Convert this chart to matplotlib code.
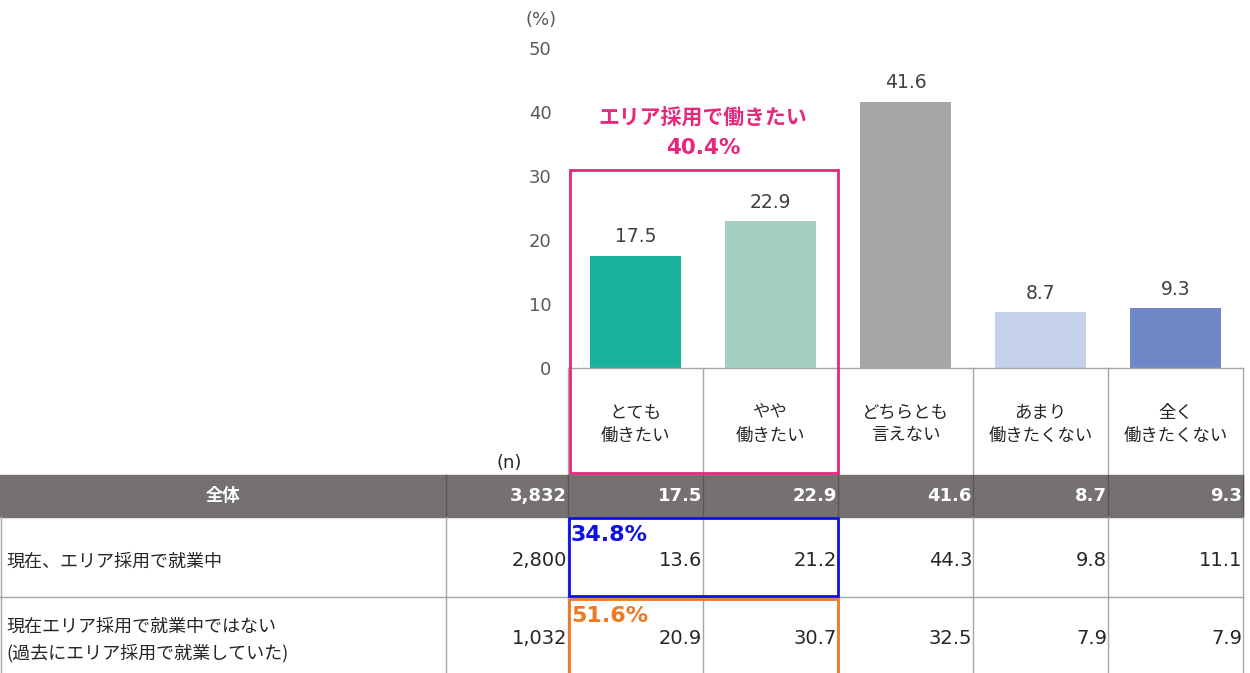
#
#   Survey: willingness to work under area-limited hiring, bar chart + table
#

import matplotlib.pyplot as plt
from matplotlib.patches import Rectangle

plt.rcParams['font.family'] = ['Noto Sans CJK JP', 'DejaVu Sans']
NUM = ['DejaVu Sans']  # wide Verdana-like digits, as in the original

categories = ['とても\n働きたい', 'やや\n働きたい', 'どちらとも\n言えない',
              'あまり\n働きたくない', '全く\n働きたくない']
overall = [17.5, 22.9, 41.6, 8.7, 9.3]
bar_colors = ['#1AB29C', '#A3CFC3', '#A6A6A6', '#C5D0EA', '#6F87C6']
yticks = [0, 10, 20, 30, 40, 50]

row_labels = ['全体', '現在、エリア採用で就業中',
              '現在エリア採用で就業中ではない\n(過去にエリア採用で就業していた)']
row_n = ['3,832', '2,800', '1,032']
row_values = [overall, [13.6, 21.2, 44.3, 9.8, 11.1],
              [20.9, 30.7, 32.5, 7.9, 7.9]]
group_total = '40.4%'
row_totals = ['34.8%', '51.6%']

W, H = 1250, 673
fig = plt.figure(figsize=(W / 100, H / 100), dpi=100)

# bar chart: y=0 at px 368, y=50 at px 48; columns 568..1243
ax = fig.add_axes([568 / W, (H - 368) / H, 675 / W, 320 / H])
x = range(len(categories))
bars = ax.bar(x, overall, width=0.667, color=bar_colors, zorder=2)
for b, v in zip(bars, overall):
    ax.text(b.get_x() + b.get_width() / 2, v + 3.0, f'{v:.1f}', ha='center',
            va='center', fontsize=13.5, color='#404040', family=NUM)
ax.set_xlim(-0.5, len(categories) - 0.5)
ax.set_ylim(0, 50)
ax.set_yticks(yticks)
ax.tick_params(axis='y', length=0, labelsize=13, labelcolor='#595959', pad=12)
for lab in ax.get_yticklabels():
    lab.set_family(NUM)
ax.set_xticks([])
for s in ['top', 'right', 'left', 'bottom']:
    ax.spines[s].set_visible(False)
ax.patch.set_alpha(0)

# overlay in pixel coordinates for the table
t = fig.add_axes([0, 0, 1, 1], zorder=3)
t.set_xlim(0, W)
t.set_ylim(H, 0)
t.axis('off')
t.patch.set_alpha(0)

col_edges = [1, 446, 568, 703, 838, 973, 1108, 1243]
grid = '#A6A6A6'

t.text(541, 20, '(%)', ha='center', va='center', fontsize=13, color='#595959',
       family=NUM)

# category label cells
t.plot([568, 1243], [368, 368], color=grid, lw=1)
for xe in col_edges[2:]:
    t.plot([xe, xe], [368, 475], color=grid, lw=1)
for i, c in enumerate(categories):
    cx = (col_edges[i + 2] + col_edges[i + 3]) / 2
    t.text(cx, 424, c, ha='center', va='center', fontsize=12.5,
           color='#262626', linespacing=1.35)

t.text(509, 463, '(n)', ha='center', va='center', fontsize=13, color='#262626',
       family=NUM)

# header row
t.add_patch(Rectangle((0, 475), 1243, 42, color='#767171', zorder=1))
row_tops = [475, 517, 597, 673]
for r in range(3):
    y0, y1 = row_tops[r], row_tops[r + 1]
    cy = (y0 + y1) / 2
    head = r == 0
    col = 'white' if head else '#262626'
    wt = 'bold' if head else 'normal'
    fs = 13 if head else 14
    if head:
        t.text(223, cy, row_labels[r], ha='center', va='center', fontsize=12.5,
               color=col, weight=wt)
    else:
        t.text(6, cy + 5, row_labels[r], ha='left', va='center', fontsize=13,
               color=col, linespacing=1.5)
    vy = cy + (0 if head else 4)
    t.text(col_edges[2] - 1, vy, row_n[r], ha='right', va='center',
           fontsize=fs, color=col, weight=wt, family=NUM)
    for i, v in enumerate(row_values[r]):
        t.text(col_edges[i + 3] - 1, vy, f'{v:.1f}', ha='right', va='center',
               fontsize=fs, color=col, weight=wt, family=NUM)
    lc = '#5A5656' if head else grid
    for xe in col_edges[(1 if head else 0):]:
        t.plot([xe, xe], [y0, y1], color=lc, lw=1, zorder=2)
t.plot([0, 1243], [597, 597], color=grid, lw=1)

# highlight boxes
t.add_patch(Rectangle((570, 170), 268, 303, fill=False, ec='#E6287D', lw=2,
                      zorder=4))
t.text(703, 118, 'エリア採用で働きたい', ha='center', va='center', fontsize=15,
       weight='bold', color='#E6287D')
t.text(703, 148, group_total, ha='center', va='center', fontsize=15.5,
       weight='bold', color='#E6287D', family=NUM)
t.add_patch(Rectangle((569, 518), 269, 78, fill=False, ec='#1010E6', lw=2,
                      zorder=4))
t.text(571, 535, row_totals[0], ha='left', va='center', fontsize=16,
       weight='bold', color='#1010E6', family=NUM)
t.add_patch(Rectangle((569, 599), 269, 80, fill=False, ec='#F07820', lw=2,
                      zorder=4))
t.text(571, 616, row_totals[1], ha='left', va='center', fontsize=16,
       weight='bold', color='#F07820', family=NUM)

fig.savefig('out.png', dpi=100)
